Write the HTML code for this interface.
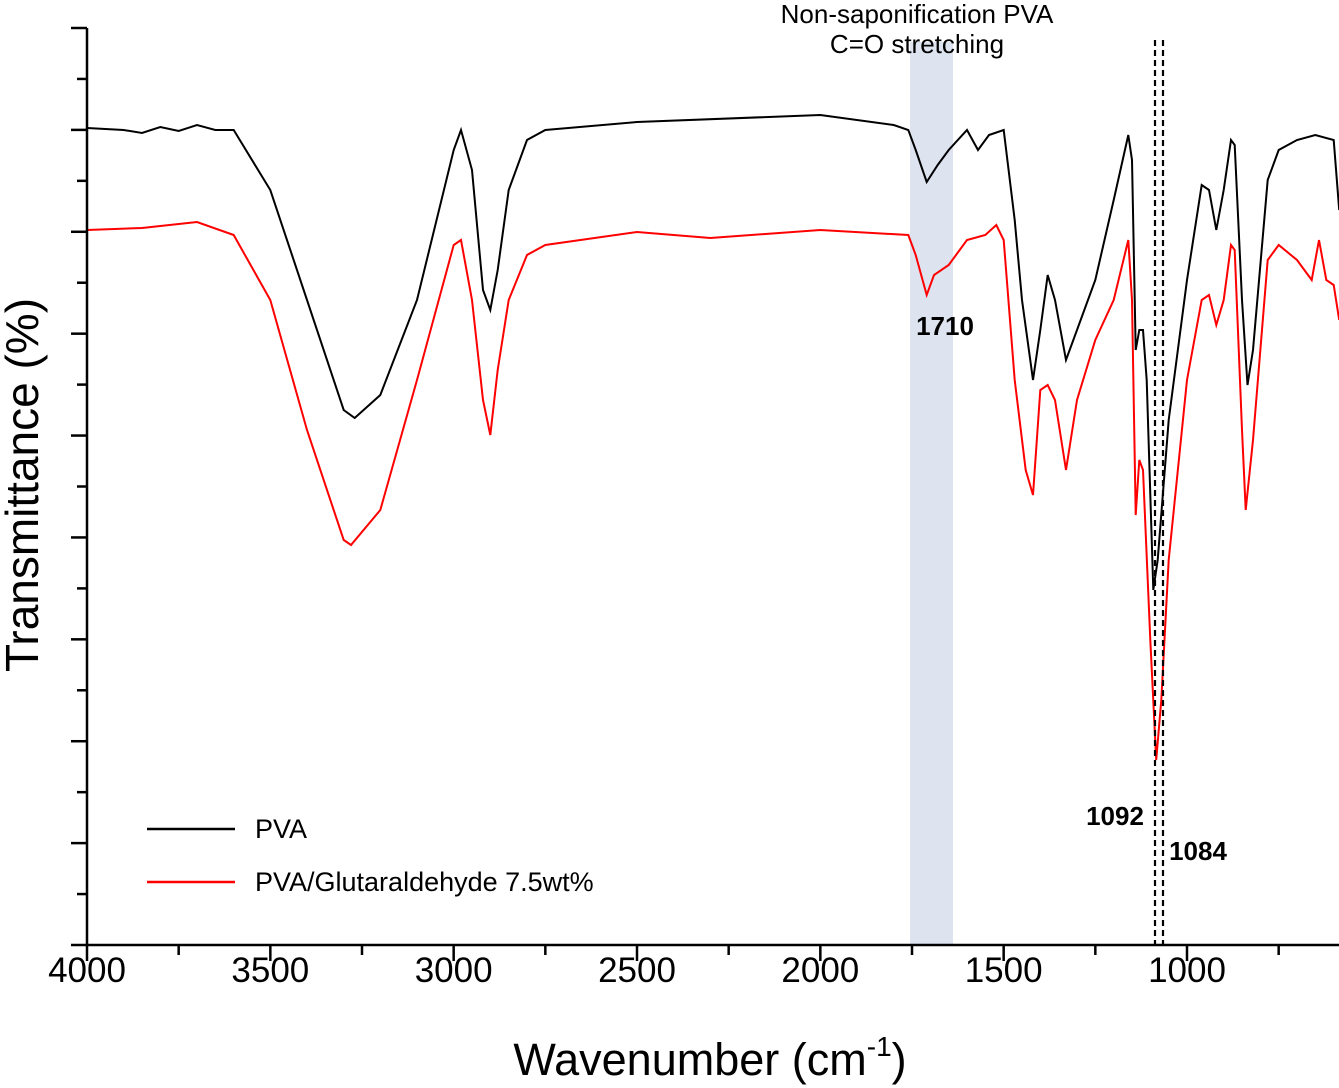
<!DOCTYPE html>
<html><head><meta charset="utf-8"><style>
html,body{margin:0;padding:0;background:#fff;}
svg{display:block;font-family:"Liberation Sans",Arial,sans-serif;}
</style></head><body>
<svg id="chart" width="1339" height="1088" viewBox="0 0 1339 1088">
<rect x="910" y="42" width="43" height="903" fill="#dde4f0"/>
<g id="series"></g>
<g id="axes"></g>
<line x1="1155" y1="40" x2="1155" y2="945" stroke="#000" stroke-width="2.2" stroke-dasharray="6,4"/>
<line x1="1163" y1="40" x2="1163" y2="945" stroke="#000" stroke-width="2.2" stroke-dasharray="6,4"/>
<text x="917" y="23" font-size="26" text-anchor="middle">Non-saponification PVA</text>
<text x="917" y="53" font-size="26" text-anchor="middle">C=O stretching</text>
<text x="945" y="335" font-size="26" font-weight="bold" text-anchor="middle">1710</text>
<text x="1115" y="825" font-size="26" font-weight="bold" text-anchor="middle">1092</text>
<text x="1198" y="860" font-size="26" font-weight="bold" text-anchor="middle">1084</text>
<line x1="147" y1="829" x2="235" y2="829" stroke="#000" stroke-width="2.5"/>
<text x="255" y="838" font-size="27">PVA</text>
<line x1="147" y1="882" x2="235" y2="882" stroke="#ff0000" stroke-width="2.5"/>
<text x="255" y="891" font-size="27">PVA/Glutaraldehyde 7.5wt%</text>
<text x="710" y="1075" font-size="45" text-anchor="middle">Wavenumber (cm<tspan font-size="28" dy="-19">-1</tspan><tspan dy="19">)</tspan></text>
<text transform="translate(38,485) rotate(-90)" font-size="46" text-anchor="middle">Transmittance (%)</text>
</svg>
<script>
const wnPVA=[4000,3900,3850,3800,3750,3700,3650,3600,3500,3400,3300,3270,3200,3100,3000,2980,2950,2920,2900,2880,2850,2800,2750,2500,2000,1800,1760,1740,1710,1680,1650,1600,1570,1540,1500,1470,1450,1420,1400,1380,1360,1330,1300,1250,1200,1160,1150,1140,1130,1120,1110,1092,1080,1050,1000,960,940,920,900,880,870,850,835,820,780,750,700,650,600,585];
const tPVA=[817,815,812,818,814,820,815,815,755,645,535,527,550,645,795,815,775,655,635,675,755,805,815,823,830,820,815,795,763,780,795,815,795,810,815,725,645,565,615,670,645,585,615,665,745,810,785,595,615,615,565,355,385,525,665,760,755,715,755,805,800,645,560,595,765,795,805,810,805,735];
const wnGA=[4000,3850,3700,3600,3500,3400,3300,3280,3200,3100,3000,2980,2950,2920,2900,2880,2850,2800,2750,2500,2300,2000,1760,1740,1710,1690,1650,1600,1550,1520,1500,1470,1440,1420,1400,1380,1360,1330,1300,1250,1200,1160,1150,1140,1130,1120,1100,1084,1070,1050,1000,960,940,920,900,880,870,850,840,820,780,750,700,660,640,620,600,585];
const tGA=[715,717,723,710,645,515,405,400,435,565,700,705,645,545,510,575,645,690,700,713,707,715,710,690,650,670,680,705,710,720,705,565,475,450,555,560,545,475,545,605,645,705,645,430,485,475,305,185,245,385,565,645,650,620,645,700,695,515,435,505,685,700,685,665,705,665,660,625];
const xTicks=[4000,3500,3000,2500,2000,1500,1000];
const X0=87,X1=1339,Y0=945,Y1=28;
function xs(w){return X0+(4000-w)*(1187-87)/3000;}
function ys(v){return Y0-v;}
const NS="http://www.w3.org/2000/svg";
const sg=document.getElementById('series'),ag=document.getElementById('axes');
function mk(t,a,p){const e=document.createElementNS(NS,t);for(const k in a)e.setAttribute(k,a[k]);p.appendChild(e);return e;}
function line(wn,t,col,name){
 let d=wn.map((w,i)=>(i?'L':'M')+xs(w).toFixed(1)+','+ys(t[i]).toFixed(1)).join('');
 const p=mk('path',{d:d,fill:'none',stroke:col,'stroke-width':2},sg);
 
 
}
line(wnPVA,tPVA,'#000','series-pva');
line(wnGA,tGA,'#ff0000','series-pva-glutaraldehyde');
const ya=mk('line',{x1:X0,y1:Y1,x2:X0,y2:Y0,stroke:'#000','stroke-width':2.5},ag);


const xa=mk('line',{x1:X0,y1:Y0,x2:X1,y2:Y0,stroke:'#000','stroke-width':2.5},ag);


for(let i=0;i<=18;i++){const y=Y0-i*(Y0-Y1)/18;const l=i%2?10:16;
 const t=mk('line',{x1:X0-l,y1:y,x2:X0,y2:y,stroke:'#000','stroke-width':2.5},ag);
 
 }
for(let w=4000;w>=600;w-=250){const x=xs(w);const maj=w%500===0;
 const t=mk('line',{x1:x,y1:Y0,x2:x,y2:Y0+(maj?16:10),stroke:'#000','stroke-width':2.5},ag);
 
 }
xTicks.forEach(w=>{const t=mk('text',{x:xs(w),y:982,'font-size':35,'text-anchor':'middle'},ag);t.textContent=w;
 
 });
</script>
</body></html>
